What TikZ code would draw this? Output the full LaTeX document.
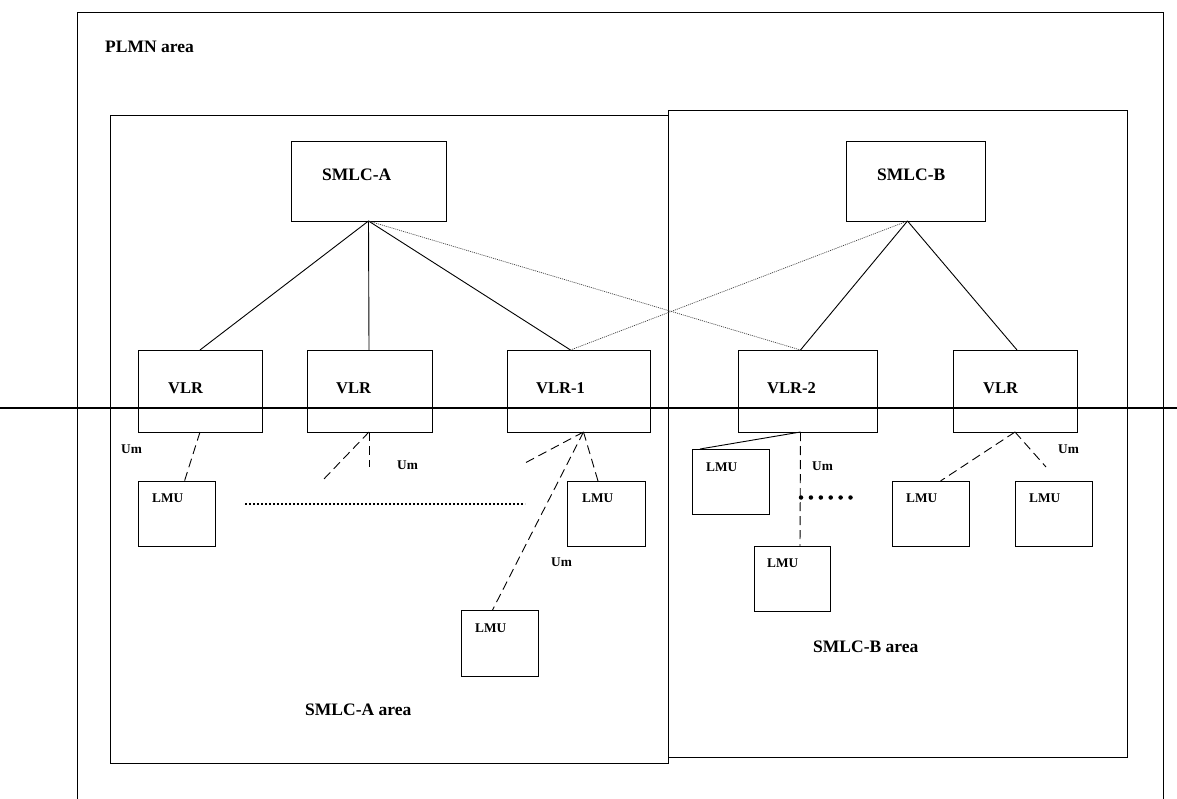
\documentclass[tikz,border=0pt]{standalone}
\usepackage{fontspec}
\setmainfont{Liberation Serif}
\begin{document}
\begin{tikzpicture}[x=1pt,y=-1pt,
  box/.style={draw, line width=0.9pt, anchor=north west, inner sep=0pt, outer sep=0pt},
  huge/.style={font=\bfseries\fontsize{17.5}{17.5}\selectfont, anchor=west, inner sep=0pt},
  big/.style={font=\bfseries\fontsize{16.5}{16.5}\selectfont, anchor=west, inner sep=0pt},
  small/.style={font=\bfseries\fontsize{13.3}{13.3}\selectfont, anchor=west, inner sep=0pt},
  area/.style={font=\bfseries\fontsize{17.5}{17.5}\selectfont, anchor=west, inner sep=0pt},
  link/.style={line width=0.9pt},
  dotln/.style={line width=0.7pt, dash pattern=on 1pt off 1pt, black!75},
  dashln/.style={line width=0.9pt, dash pattern=on 9pt off 5pt}]
\useasboundingbox (0,0) rectangle (1177,799);
% areas
\draw[line width=0.9pt] (77,810) -- (77,12) -- (1163,12) -- (1163,810);
\node[area] (plmn) at (105,47) {PLMN area};
\node[box, minimum width=558pt, minimum height=648pt] (areaa) at (110,115) {};
\node[box, minimum width=459pt, minimum height=647pt] (areab) at (668,110) {};
\node[area] (areaat) at (305,710) {SMLC-A area};
\node[area] (areabt) at (813,647) {SMLC-B area};
% SMLC
\node[box, minimum width=155pt, minimum height=80pt] (smlca) at (291,141) {};
\node[huge] (smlcat) at (322,175) {SMLC-A};
\node[box, minimum width=139pt, minimum height=80pt] (smlcb) at (846,141) {};
\node[huge] (smlcbt) at (877,175) {SMLC-B};
% VLR
\node[box, minimum width=124pt, minimum height=82pt] (vlra) at (138,350) {};
\node[big] (vlrat) at (168,388) {VLR};
\node[box, minimum width=125pt, minimum height=82pt] (vlrb) at (307,350) {};
\node[big] (vlrbt) at (336,388) {VLR};
\node[box, minimum width=143pt, minimum height=82pt] (vlrone) at (507,350) {};
\node[big] (vlronet) at (536,388) {VLR-1};
\node[box, minimum width=139pt, minimum height=82pt] (vlrtwo) at (738,350) {};
\node[big] (vlrtwot) at (767,388) {VLR-2};
\node[box, minimum width=124pt, minimum height=82pt] (vlre) at (953,350) {};
\node[big] (vlret) at (983,388) {VLR};
% horizontal line
\coordinate (hl) at (0,408);
\coordinate (hr) at (1177,408);
\draw[line width=1.6pt] (hl) -- (hr);
% LMU
\node[box, minimum width=77pt, minimum height=65pt] (lmua) at (138,481) {};
\node[small] (lmuat) at (152,498) {LMU};
\node[box, minimum width=78pt, minimum height=65pt] (lmub) at (567,481) {};
\node[small] (lmubt) at (582,498) {LMU};
\node[box, minimum width=77pt, minimum height=66pt] (lmuc) at (461,610) {};
\node[small] (lmuct) at (475,628) {LMU};
\node[box, minimum width=77pt, minimum height=65pt] (lmud) at (692,449) {};
\node[small] (lmudt) at (706,467) {LMU};
\node[box, minimum width=76pt, minimum height=65pt] (lmue) at (754,546) {};
\node[small] (lmuet) at (767,563) {LMU};
\node[box, minimum width=77pt, minimum height=65pt] (lmuf) at (892,481) {};
\node[small] (lmuft) at (906,498) {LMU};
\node[box, minimum width=77pt, minimum height=65pt] (lmug) at (1015,481) {};
\node[small] (lmugt) at (1029,498) {LMU};
% Um labels
\node[small] (uma) at (121,449) {Um};
\node[small] (umb) at (397,465) {Um};
\node[small] (umc) at (551,562) {Um};
\node[small] (umd) at (812,466) {Um};
\node[small] (ume) at (1058,449) {Um};
% SMLC links
\draw[link] (smlca.south) -- (vlra.north);
\draw[link] (smlca.south) -- ([xshift=-0.5pt]vlrb.north);
\draw[link] (smlca.south) -- ([xshift=-8pt]vlrone.north);
\draw[dotln] (smlca.south) -- ([xshift=-7pt]vlrtwo.north);
\draw[dotln] ([xshift=-8pt]smlcb.south) -- ([xshift=-8pt]vlrone.north);
\draw[link] ([xshift=-8pt]smlcb.south) -- ([xshift=-7pt]vlrtwo.north);
\draw[link] ([xshift=-8pt]smlcb.south) -- ([xshift=2pt]vlre.north);
% VLR to LMU
\coordinate (fa) at (322,481);
\coordinate (fb) at (369,467);
\coordinate (fc) at (525,463);
\coordinate (fd) at (1046,467);
\draw[dashln] (vlra.south) -- ([xshift=8pt]lmua.north);
\draw[dashln] ([xshift=-0.5pt]vlrb.south) -- (fa);
\draw[dashln] ([xshift=-0.5pt]vlrb.south) -- (fb);
\draw[dashln] ([xshift=5pt]vlrone.south) -- (fc);
\draw[dashln] ([xshift=5pt]vlrone.south) -- ([xshift=-8pt]lmub.north);
\draw[dashln] ([xshift=5pt]vlrone.south) -- ([xshift=-7pt]lmuc.north);
\draw[link] ([xshift=-7pt]vlrtwo.south) -- ([xshift=8pt]lmud.north west);
\draw[dashln] ([xshift=-7pt]vlrtwo.south) -- ([xshift=8pt]lmue.north);
\draw[dashln] (vlre.south) -- ([xshift=10pt]lmuf.north);
\draw[dashln] (vlre.south) -- (fd);
% dotted rows
\coordinate (da) at (245,504);
\coordinate (db) at (525,504);
\draw[line width=2pt, dash pattern=on 2pt off 2pt] (da) -- (db);
\coordinate (dc) at (801,497.5);
\coordinate (dd) at (852,497.5);
\draw[line width=4.5pt, line cap=round, dash pattern=on 0pt off 9.9pt] (dc) -- (dd);
\end{tikzpicture}
\end{document}
